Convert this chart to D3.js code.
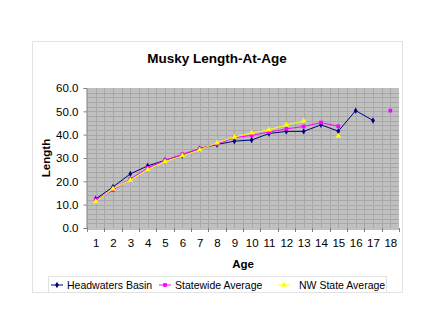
<!DOCTYPE html>
<html>
<head>
<meta charset="utf-8">
<script src="https://cdn.jsdelivr.net/npm/d3@7"></script>
<style>
  body { margin: 0; background: #fff; }
  text { font-family: "Liberation Sans", Arial, sans-serif; }
</style>
</head>
<body>
<div id="chart"></div>
<script>
// ages along the x axis
var ages = [1,2,3,4,5,6,7,8,9,10,11,12,13,14,15,16,17,18];

// lengths (null = no value)
var headwaters = [12.4,17.6,23.2,26.6,29.0,31.1,34.0,35.8,37.2,37.7,40.5,41.4,41.4,44.2,41.5,50.3,46.1,null];
var statewide  = [12.0,16.2,21.0,25.7,29.0,31.6,34.0,36.0,38.7,39.7,41.1,42.5,43.5,45.2,43.6,null,null,50.3];
var nwState    = [11.3,16.8,20.5,25.0,28.5,31.0,33.5,36.5,39.0,40.8,42.1,44.2,45.9,null,39.4,null,null,null];

var yTicks = [0,10,20,30,40,50,60];

var series = [
  {name: "Headwaters Basin", values: headwaters, color: "#000080", marker: d3.symbolDiamond, size: 12},
  {name: "Statewide Average", values: statewide, color: "#ff00ff", marker: d3.symbolSquare, size: 14},
  {name: "NW State Average", values: nwState, color: "#ffff00", marker: d3.symbolTriangle, size: 14}
];

var width = 435, height = 336;
var plot = {left: 87, top: 88, right: 399, bottom: 228};

var svg = d3.select("#chart").append("svg")
  .attr("width", width)
  .attr("height", height);

// chart area border
svg.append("rect")
  .attr("x", 32.5).attr("y", 41.5)
  .attr("width", 370).attr("height", 251)
  .attr("fill", "#fff")
  .attr("stroke", "#e2e2e2");

var x = d3.scaleLinear().domain([0.5, 18.5]).range([plot.left, plot.right]);
var y = d3.scaleLinear().domain([0, 60]).range([plot.bottom, plot.top]);

// plot area
svg.append("rect")
  .attr("x", plot.left).attr("y", plot.top)
  .attr("width", plot.right - plot.left).attr("height", plot.bottom - plot.top)
  .attr("fill", "#c0c0c0");

// grid
var grid = svg.append("g").attr("stroke", "#a8a8a8").attr("stroke-width", 1);
grid.selectAll("line.h")
  .data(d3.range(2, 60, 2))
  .enter().append("line")
  .attr("x1", plot.left).attr("x2", plot.right)
  .attr("y1", function(d){ return Math.round(y(d)) + 0.5; })
  .attr("y2", function(d){ return Math.round(y(d)) + 0.5; });
grid.selectAll("line.v")
  .data(d3.range(1, 18.5, 0.5))
  .enter().append("line")
  .attr("y1", plot.top).attr("y2", plot.bottom)
  .attr("x1", function(d){ return Math.round(x(d)) + 0.5; })
  .attr("x2", function(d){ return Math.round(x(d)) + 0.5; });

// y axis
var yAxis = svg.append("g")
  .attr("transform", "translate(" + (plot.left - 0.5) + ",0)")
  .call(d3.axisLeft(y).tickValues(yTicks).tickFormat(d3.format(".1f")).tickSize(3).tickPadding(5));
yAxis.select(".domain").attr("stroke", "#808080");
yAxis.selectAll(".tick line").attr("stroke", "#808080");
yAxis.selectAll("text").style("font-size", "11.5px").attr("fill", "#000");

// x axis, category labels centred, ticks between categories
var xAxis = svg.append("g")
  .attr("transform", "translate(0," + (plot.bottom + 0.5) + ")")
  .call(d3.axisBottom(x).tickValues(ages).tickSize(0).tickPadding(10).tickFormat(d3.format("d")));
xAxis.select(".domain").attr("stroke", "#808080");
xAxis.selectAll("text").style("font-size", "11.5px").attr("fill", "#000");
svg.append("g").selectAll("line")
  .data(d3.range(0.5, 19, 1))
  .enter().append("line")
  .attr("x1", function(d){ return Math.round(x(d)) + 0.5; })
  .attr("x2", function(d){ return Math.round(x(d)) + 0.5; })
  .attr("y1", plot.bottom).attr("y2", plot.bottom + 4)
  .attr("stroke", "#808080");

// lines and markers
var line = d3.line()
  .defined(function(d){ return d.v != null; })
  .x(function(d){ return x(d.age); })
  .y(function(d){ return y(d.v); });

series.forEach(function(s){
  var pts = ages.map(function(a, i){ return {age: a, v: s.values[i]}; });
  svg.append("path")
    .datum(pts)
    .attr("d", line)
    .attr("fill", "none")
    .attr("stroke", s.color)
    .attr("stroke-width", 1);
  svg.append("g").selectAll("path")
    .data(pts.filter(function(d){ return d.v != null; }))
    .enter().append("path")
    .attr("d", d3.symbol().type(s.marker).size(s.size))
    .attr("transform", function(d){ return "translate(" + x(d.age) + "," + y(d.v) + ")"; })
    .attr("fill", s.color);
});

// title and axis titles
svg.append("text")
  .attr("x", 217).attr("y", 63)
  .attr("text-anchor", "middle")
  .style("font-size", "13.5px").style("font-weight", "bold")
  .text("Musky Length-At-Age");

svg.append("text")
  .attr("transform", "translate(50," + ((plot.top + plot.bottom) / 2) + ") rotate(-90)")
  .attr("text-anchor", "middle")
  .style("font-size", "11.5px").style("font-weight", "bold")
  .text("Length");

svg.append("text")
  .attr("x", (plot.left + plot.right) / 2).attr("y", 268)
  .attr("text-anchor", "middle")
  .style("font-size", "11.5px").style("font-weight", "bold")
  .text("Age");

// legend
var legend = svg.append("g");
legend.append("rect")
  .attr("x", 48.5).attr("y", 276.5)
  .attr("width", 338).attr("height", 16)
  .attr("fill", "#fff").attr("stroke", "#e2e2e2");

var legendX = [51, 159, 278];
series.forEach(function(s, i){
  var g = legend.append("g").attr("transform", "translate(" + legendX[i] + ",285)");
  g.append("line").attr("x1", 0).attr("x2", 12).attr("stroke", s.color);
  g.append("path")
    .attr("d", d3.symbol().type(s.marker).size(s.size))
    .attr("transform", "translate(6,0)")
    .attr("fill", s.color);
  g.append("text")
    .attr("x", i == 2 ? 21 : 16).attr("y", 4)
    .style("font-size", "10.5px")
    .text(s.name);
});
</script>
</body>
</html>
